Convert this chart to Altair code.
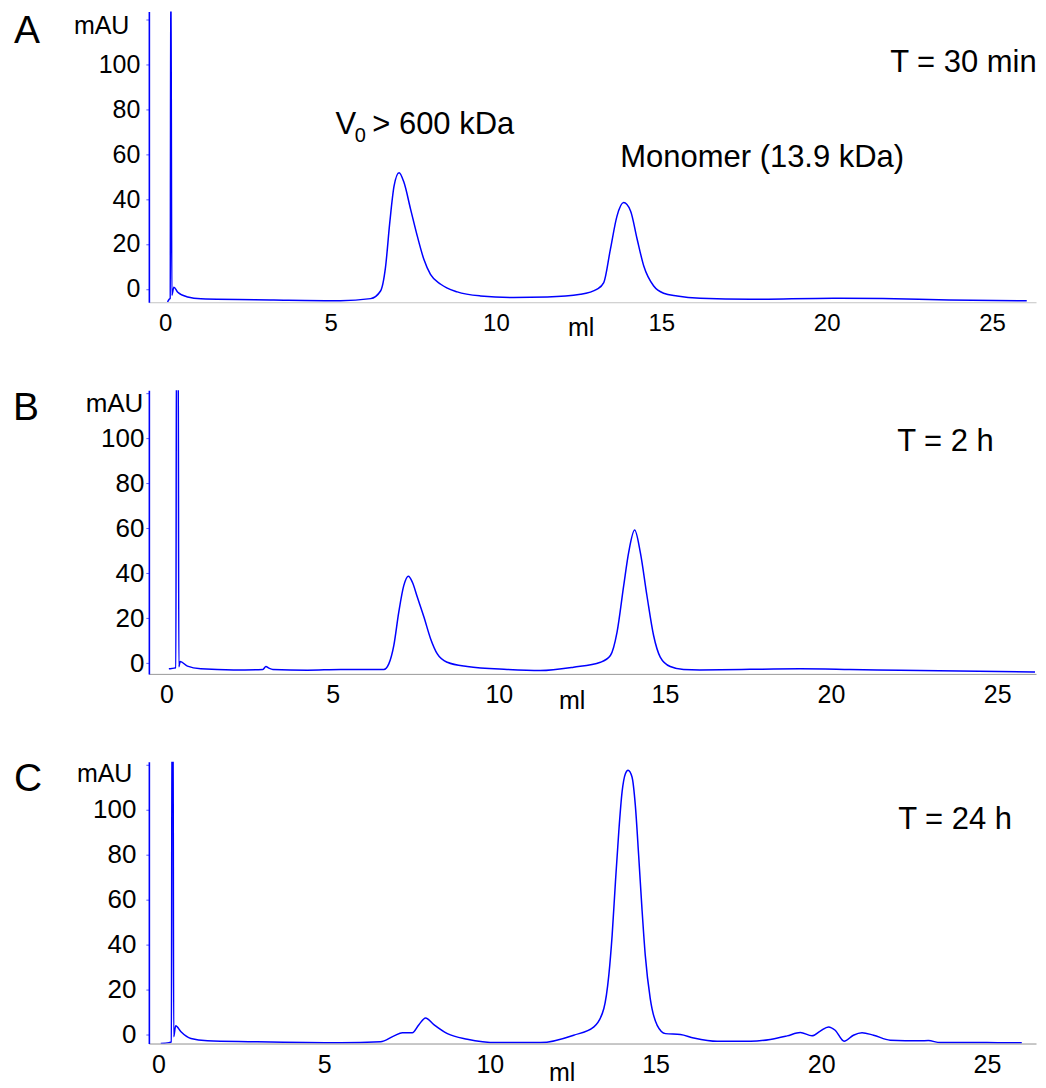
import altair as alt
import pandas as pd

# ---------------- Panel A : T = 30 min ----------------
a_ml = [0.07, 0.12, 0.15, 0.17, 0.20, 0.26, 0.38, 0.68, 1.08, 3.28,
        5.3, 6.21, 6.51, 6.66, 6.79, 6.92, 7.07, 7.22, 7.42, 7.62,
        7.82, 8.02, 8.33, 8.83, 9.53, 10.53, 11.55, 12.56, 13.06, 13.26,
        13.46, 13.66, 13.86, 14.07, 14.27, 14.47, 14.77, 15.07, 15.48, 16.18,
        17.69, 20.2, 21.7, 23.7, 26.05]
a_mau = [-5.8, -4.6, -4.2, 150, -2.8, 0.8, -1.5, -3.6, -4.4, -4.9,
         -5.2, -4.3, -0.9, 9.6, 29.6, 45.8, 51.7, 47.3, 35.4, 23.6,
         13.2, 6.5, 2.1, -1.3, -3.1, -3.8, -3.6, -2.4, -0.1, 2.8,
         17.6, 32.4, 38.4, 34.7, 22.1, 10.2, 1.3, -1.9, -3.1, -4.1,
         -4.6, -4.1, -4.3, -4.9, -5.3]

# ---------------- Panel B : T = 2 h ----------------
b_ml = [0.07, 0.23, 0.28, 0.30, 0.35, 0.37, 0.41, 0.63, 1.03, 2.02,
        2.9, 2.99, 3.08, 3.2, 4.24, 5.24, 6.54, 6.69, 6.84, 6.99,
        7.14, 7.28, 7.40, 7.55, 7.75, 7.95, 8.15, 8.45, 9.05, 10.25,
        11.25, 12.25, 13.06, 13.36, 13.56, 13.76, 13.91, 14.09, 14.26, 14.46,
        14.66, 14.86, 15.16, 15.56, 16.05, 19.07, 20.57, 22.08, 26.14]
b_mau = [-2.5, -2.2, -2.1, 150, 150, -1.6, 0.7, -1.3, -2.5, -3.0,
         -2.8, -1.5, -2.2, -2.8, -3.1, -2.8, -2.8, -0.3, 7.8, 22.7,
         34.5, 38.7, 36.0, 29.3, 20.4, 10.8, 4.1, 0.4, -1.5, -2.8,
         -3.3, -1.8, 0.4, 3.4, 13.8, 34.5, 49.3, 59.2, 49.3, 30.0,
         12.3, 2.7, -1.5, -2.8, -3.0, -2.5, -2.8, -3.2, -3.9]

# ---------------- Panel C : T = 24 h ----------------
c_ml = [0.07, 0.32, 0.39, 0.41, 0.44, 0.46, 0.52, 0.68, 0.98, 1.48,
        2.79, 5.50, 6.70, 7.11, 7.36, 7.66, 7.86, 8.06, 8.31, 8.72,
        9.32, 10.22, 11.53, 12.53, 13.14, 13.44, 13.59, 13.69, 13.79, 13.89,
        13.99, 14.09, 14.17, 14.29, 14.39, 14.49, 14.59, 14.69, 14.84, 15.05,
        15.30, 15.75, 16.15, 16.86, 17.87, 18.46, 18.97, 19.37, 19.72, 19.97,
        20.22, 20.42, 20.69, 20.97, 21.23, 21.58, 22.08, 22.99, 23.23, 23.59,
        25.0, 26.05]
c_mau = [-4.0, -3.6, -3.3, 150, 150, -1.0, 3.9, 1.2, -1.8, -2.8,
         -3.2, -3.7, -3.2, -0.6, 0.8, 0.8, 4.4, 7.4, 4.4, 0.4,
         -2.1, -3.6, -3.6, -0.3, 3.4, 11.6, 26.4, 44.1, 67.9, 90.1,
         107.9, 116.0, 117.5, 114.5, 101.9, 79.7, 56.0, 35.2, 16.0, 4.1,
         0.4, 0.0, -1.5, -3.0, -3.0, -2.2, -0.6, 0.9, -0.6, 1.5,
         3.4, 1.9, -3.0, -0.3, 0.8, -0.3, -2.5, -2.8, -2.7, -3.6,
         -3.6, -3.7]

# tick labels
x_ticks = [0, 5, 10, 15, 20, 25]
y_ticks = list(range(0, 121, 10))

# annotations (text, ml, mAU, font size)
a_text = ["A", "T = 30 min", "V", "0", "> 600 kDa", "Monomer (13.9 kDa)"]
a_tx = [-4.57, 21.92, 5.15, 5.73, 6.26, 13.76]
a_ty = [109.2, 96.3, 68.8, 65.2, 68.8, 54.1]
a_fs = [39, 31, 31, 20, 31, 31]

b_text = ["B", "T = 2 h"]
b_tx = [-4.62, 21.99]
b_ty = [108.1, 94.4]
b_fs = [39, 31]

c_text = ["C", "T = 24 h"]
c_tx = [-4.36, 22.32]
c_ty = [108.4, 91.6]
c_fs = [39, 31]

AXIS_FONT = "Liberation Sans"


def panel(ml, mau, texts, tx, ty, fs, xdom, ydom, height, lab_pad, lab_fs,
          ytitle_fs, ytitle_x, ytitle_y, xlab_fs, xtitle_x, xtitle_y, xdomain_color):
    df = pd.DataFrame({"ml": ml, "mAU": mau})
    ann = pd.DataFrame({"ml": tx, "mAU": ty, "label": texts, "fs": fs})
    xs = alt.Scale(domain=xdom, nice=False, zero=False)
    ys = alt.Scale(domain=ydom, nice=False, zero=False)
    xaxis = alt.Axis(values=x_ticks, ticks=False, tickSize=0, grid=False,
                     domainColor=xdomain_color, domainWidth=1,
                     labelFont=AXIS_FONT, labelFontSize=xlab_fs, labelColor="black",
                     labelPadding=9, labelFlush=False,
                     title="ml", titleFont=AXIS_FONT, titleFontSize=25,
                     titleFontWeight="normal",
                     titleColor="black", titleAlign="left",
                     titleBaseline="alphabetic", titleX=xtitle_x, titleY=xtitle_y)
    yaxis = alt.Axis(values=y_ticks, grid=False,
                     labelExpr="datum.value % 20 == 0 && datum.value <= 100 ? datum.label : ''",
                     domainColor="#0000ff", domainWidth=1.6,
                     tickColor="#5a5aff", tickSize=3, tickWidth=1,
                     labelFont=AXIS_FONT, labelFontSize=lab_fs, labelColor="black",
                     labelPadding=lab_pad,
                     title="mAU", titleAngle=0, titleAlign="right",
                     titleBaseline="alphabetic", titleFont=AXIS_FONT,
                     titleFontSize=ytitle_fs,
                     titleFontWeight="normal", titleColor="black",
                     titleX=ytitle_x, titleY=ytitle_y)
    line = alt.Chart(df).mark_line(
        color="#0000ff", strokeWidth=1.5, clip=True, interpolate="monotone"
    ).encode(
        x=alt.X("ml:Q", scale=xs, axis=xaxis),
        y=alt.Y("mAU:Q", scale=ys, axis=yaxis),
    )
    text = alt.Chart(ann).mark_text(
        align="left", baseline="alphabetic", color="black"
    ).encode(
        x=alt.X("ml:Q", scale=xs),
        y=alt.Y("mAU:Q", scale=ys),
        text="label:N",
        size=alt.Size("fs:Q", scale=None),
    )
    return alt.layer(line, text).properties(width=888, height=height)


pA = panel(a_ml, a_mau, a_text, a_tx, a_ty, a_fs,
           [-0.495, 26.33], [-5.91, 123.4], 291, 6, 25, 25, -20, 22, 24, 419, 33, "#c4c4c4")
pB = panel(b_ml, b_mau, b_text, b_tx, b_ty, b_fs,
           [-0.532, 26.17], [-4.76, 121.47], 284, 2, 26, 26, -6, 21, 25, 410, 35, "#999999")
pC = panel(c_ml, c_mau, c_text, c_tx, c_ty, c_fs,
           [-0.289, 26.48], [-4.0, 121.3], 282, 10, 26, 25, -17, 20, 25, 400, 37, "#909090")

chart = alt.vconcat(pA, pB, pC, spacing=88, bounds="flush").properties(
    padding={"left": 5, "top": 3, "right": 0, "bottom": 0}
).configure(font="Liberation Sans").configure_view(stroke=None)

chart.save("out.html", embed_options={"renderer": "svg", "actions": False})
